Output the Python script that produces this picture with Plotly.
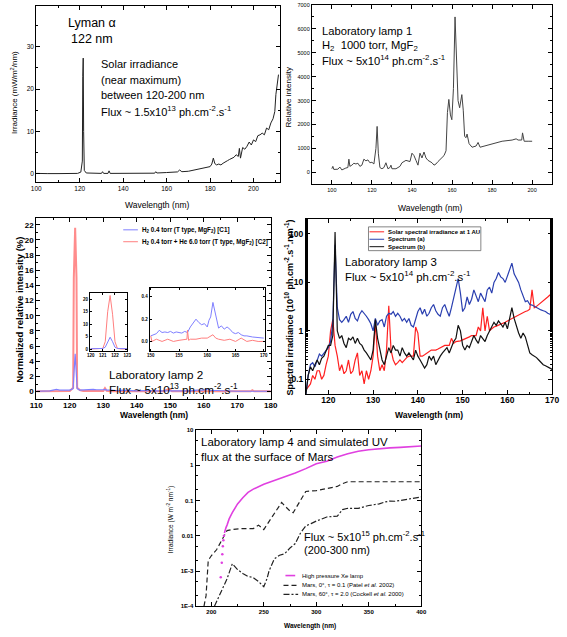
import plotly.graph_objects as go

W, H = 567, 637
FONT = "Arial, Liberation Sans, sans-serif"

# ---- panel 1: solar irradiance (mW/m2/nm)
sun_wl = [100, 103, 105, 110, 115, 119, 120.5, 121.2, 121.4, 121.6, 121.8, 122.1, 123, 126, 130,
          130.5, 131, 133, 133.5, 134, 140, 145, 150, 154.5, 155, 155.5, 160, 163, 165, 166, 167,
          170, 173, 175, 178, 180, 180.8, 181.5, 182.2, 183, 184, 185, 186, 187, 188, 189, 190,
          191, 192, 193, 193.5, 194, 195, 196, 197, 198, 199, 200, 201, 202, 203, 204, 205, 206,
          207, 208, 209, 209.8, 210.3, 211, 211.5]
sun_irr = [0.1, 0.15, 0.05, 0.05, 0.05, 0.1, 0.4, 3, 23, 27.3, 10, 0.8, 0.2, 0.1, 0.1,
           0.5, 0.1, 0.1, 0.7, 0.1, 0.1, 0.1, 0.15, 0.15, 0.5, 0.2, 0.3, 0.35, 0.45, 0.9, 0.5,
           0.6, 0.9, 1.1, 1.4, 1.7, 2.3, 3.7, 2.4, 2.1, 2.3, 2.1, 2.5, 2.9, 3.1, 3.4, 3.7,
           3.9, 4.5, 4.1, 6.0, 3.7, 6.2, 5.8, 6.5, 7.5, 6.8, 8.0, 7.6, 9.0, 9.2, 9.6, 9.2, 10.8,
           10.4, 12.0, 13.0, 14.7, 18.7, 21.8, 23.4]

# ---- panel 2: laboratory lamp 1 (relative intensity)
lamp1_wl = [100, 100.5, 101, 103, 104, 105, 107, 108, 108.5, 109,
            110, 111, 112, 113, 114, 115, 116, 117, 118, 119, 120, 121,
            122, 122.6, 123.2, 124, 125, 126, 127, 128, 129, 129.5,
            130, 132, 134, 135, 137, 139, 140, 141, 142, 143,
            144, 145, 146, 147, 148, 150, 151, 152, 153, 155,
            156, 157, 157.7, 158.4, 159.2, 159.9, 160.7, 161.5, 162.3, 163,
            163.8, 164.9, 165.6, 166.3, 167, 167.5, 168.5, 170, 172, 173,
            174, 176, 180, 185, 190, 192, 193, 194.8, 195.2, 196,
            198, 200]
lamp1_int = [150, 250, 120, 130, 220, 100, 180, 200, 550, 250,
             300, 380, 350, 380, 250, 300, 550, 480, 520, 400, 420, 350,
             1000, 1920, 800, 200, 150, 200, 400, 150, 200, 300,
             150, 150, 250, 400, 500, 450, 800, 700, 500, 300,
             800, 600, 850, 600, 500, 400, 300, 350, 450, 600,
             700, 900, 2500, 3050, 2400, 2200, 3500, 6500, 4500, 3000,
             2700, 3250, 2600, 1500, 1450, 1600, 1200, 1050, 1100, 1250,
             1050, 1100, 1200, 1300, 1350, 1400, 1350, 1350, 1650, 1300,
             1300, 1300]

# ---- panel 3: laboratory lamp 2 (normalized %)
lamp2_wl = [110, 112, 114, 115, 116, 117, 118, 119, 120, 121,
            121.2, 121.6, 122.0, 122.2, 123, 124, 125, 126, 127, 128,
            129, 130, 130.5, 131, 132, 134, 136, 138, 140, 142,
            144, 146, 148, 149.7, 150.5, 152, 154, 156, 158, 160,
            161, 162, 164, 166, 168, 170, 172, 174, 174.5, 175,
            176, 178, 180]
lamp2_c1 = [0.05, 0.05, 0.1, 0.2, 0.3, 0.2, 0.25, 0.2, 0.2, 0.4,
            2.0, 5.0, 2.0, 0.4, 0.2, 0.25, 0.3, 0.35, 0.3, 0.25,
            0.2, 0.25, 0.3, 0.2, 0.2, 0.15, 0.2, 0.15, 0.1, 0.15,
            0.1, 0.1, 0.1, 0.1, 0.1, 0.1, 0.1, 0.1, 0.2, 0.2,
            0.35, 0.15, 0.15, 0.1, 0.05, 0.05, 0.05, 0.05, 0.05, 0.05,
            0.05, 0.05, 0.05]
lamp2_c2 = [0.05, 0.05, 0.05, 0.05, 0.05, 0.05, 0.05, 0.05, 0.1, 0.5,
            15, 21.6, 15, 0.5, 0.2, 0.1, 0.1, 0.1, 0.1, 0.1,
            0.1, 0.1, 0.45, 0.1, 0.05, 0.05, 0.05, 0.05, 0.05, 0.05,
            0.05, 0.05, 0.05, 0.35, 0.05, 0.05, 0.05, 0.05, 0.05, 0.05,
            0.1, 0.05, 0.05, 0.05, 0.05, 0.05, 0.05, 0.05, 0.2, 0.05,
            0.05, 0.05, 0.05]

# inset: Lyman alpha line
lya_wl = [120, 120.5, 121, 121.2, 121.4, 121.6, 121.8, 122, 122.2, 122.5, 123]
lya_c1 = [0.2, 0.2, 0.3, 0.8, 3.0, 4.8, 3.0, 0.8, 0.3, 0.2, 0.2]
lya_c2 = [0.1, 0.1, 0.3, 3.0, 15, 21.5, 14, 3.0, 0.3, 0.1, 0.1]

# inset: 150-170 nm
h2_wl_c1 = [150, 150.5, 151, 151.5, 152, 152.5, 153, 153.5, 154, 154.5,
            155, 155.5, 156, 156.5, 157, 157.5, 158, 158.5, 159, 159.5,
            160, 160.3, 160.6, 161, 161.4, 162, 162.5, 163, 163.5, 164,
            164.5, 165, 165.5, 166, 166.5, 167, 168, 169, 170]
h2_c1 = [0.05, 0.06, 0.07, 0.1, 0.08, 0.085, 0.08, 0.09, 0.075, 0.085,
         0.08, 0.075, 0.09, 0.08, 0.13, 0.17, 0.2, 0.17, 0.15, 0.16,
         0.13, 0.19, 0.22, 0.35, 0.25, 0.12, 0.14, 0.11, 0.13, 0.11,
         0.08, 0.07, 0.08, 0.06, 0.05, 0.05, 0.04, 0.035, 0.03]
h2_wl_c2 = [150, 150.2, 151, 152, 153, 154, 155, 156, 156.4, 156.5, 156.7, 157, 158,
            159, 160, 161, 161.5, 162, 163, 164, 165, 166, 167, 168, 169, 170]
h2_c2 = [0.05, 0.0, 0.02, 0.0, 0.02, 0.0, 0.01, 0.02, 0.02, 0.1, 0.01, 0.02, 0.02,
         0.03, 0.03, 0.06, 0.03, 0.02, 0.01, 0.02, 0.0, 0.03, 0.0, 0.01, 0.0, 0.0]

# ---- panel 4: laboratory lamp 3 (10^10 ph/cm2/s/nm)
lamp3_wl = [115, 115.5, 116, 116.5, 117, 117.5, 118, 118.5, 119, 119.5,
            120, 120.5, 121, 121.5, 122, 122.5, 123, 123.5, 124, 124.5,
            125, 125.5, 126, 126.5, 127, 127.5, 128, 128.5, 129, 129.5,
            130, 130.5, 131, 131.5, 132, 132.5, 133, 133.5, 134, 134.5,
            135, 135.5, 136, 136.5, 137, 137.5, 138, 138.5, 139, 139.5,
            140, 140.5, 141, 141.5, 142, 142.5, 143, 143.5, 144, 144.5,
            145, 145.5, 146, 146.5, 147, 147.5, 148, 148.5, 149, 149.5,
            150, 150.5, 151, 151.5, 152, 152.5, 153, 153.5, 154, 154.5,
            155, 155.5, 156, 156.5, 157, 157.5, 158, 158.5, 159, 159.5,
            160, 160.5, 161, 161.5, 162, 162.5, 163, 163.5, 164, 164.5,
            165, 165.5, 166, 166.5, 167, 167.5, 168, 168.5, 169, 169.5,
            170]
solar_1au = [0.06, 0.07, 0.08, 0.12, 0.1, 0.15, 0.15, 0.1, 0.12, 0.2,
             0.3, 1.0, 1.7, 0.5, 0.3, 0.15, 0.2, 0.13, 0.15, 0.25,
             0.13, 0.15, 0.25, 0.35, 0.12, 0.15, 0.08, 0.15, 0.1, 0.15,
             0.3, 1.5, 0.3, 0.15, 0.2, 0.15, 0.4, 3.3, 0.4, 0.25,
             0.2, 0.22, 0.25, 0.22, 0.25, 0.28, 0.3, 0.3, 0.3, 1.2,
             0.9, 0.3, 0.3, 0.32, 0.35, 0.37, 0.4, 0.4, 0.4, 0.42,
             0.45, 0.47, 0.5, 0.5, 0.5, 0.7, 0.55, 0.6, 0.6, 0.62,
             0.65, 0.68, 0.7, 0.75, 0.8, 0.8, 0.8, 1.2, 1.0, 3.0,
             1.0, 2.0, 1.0, 1.1, 1.2, 1.25, 1.3, 1.35, 1.4, 1.5,
             1.6, 1.7, 1.8, 1.9, 2.0, 2.1, 2.3, 2.4, 2.5, 2.6,
             2.8, 7.0, 3.0, 3.2, 3.5, 3.7, 4.0, 4.5, 5.0, 5.5,
             6.0]
spectrum_a = [0.05, 0.12, 0.2, 0.22, 0.18, 0.25, 0.33, 0.3, 0.35, 0.4,
              0.45, 0.6, 1.5, 60, 3, 1.7, 1.5, 1.7, 2.0, 1.5,
              2.2, 2.5, 1.8, 1.6, 2.2, 2.6, 2.3, 2.0, 1.7, 1.4,
              1.0, 1.8, 1.3, 1.6, 1.7, 1.2, 2.0, 2.3, 2.2, 2.5,
              2.0, 2.3, 2.0, 1.6, 1.8, 1.5, 1.8, 1.3, 1.2, 1.7,
              2.5, 3.0, 2.2, 2.8, 2.0, 2.3, 3.0, 3.5, 2.6, 2.2,
              2.0, 3.0, 3.5, 2.6, 2.0, 3.0, 5.0, 7.0, 12, 6,
              2.5, 3.0, 5, 3.5, 4.5, 7, 5, 4, 6, 5,
              4, 7, 8, 6, 10, 12, 16, 13, 12, 10,
              14, 18, 25, 15, 12, 10, 7, 5, 4, 4.2,
              3.5, 3.4, 3.2, 3.0, 2.8, 2.7, 2.6, 2.5, 2.3, 2.2,
              2.1]
spectrum_b = [0.05, 0.12, 0.18, 0.15, 0.2, 0.25, 0.2, 0.27, 0.3, 0.4,
              0.5, 0.5, 0.8, 110, 1.0, 0.7, 0.8, 0.55, 0.45, 0.7,
              0.65, 0.75, 0.55, 0.7, 0.55, 0.5, 0.4, 0.35, 0.3, 0.25,
              0.4, 1.7, 0.7, 0.4, 0.25, 0.2, 0.3, 0.45, 0.35, 0.5,
              0.4, 0.4, 0.3, 0.45, 0.35, 0.3, 0.35, 0.3, 0.25, 0.4,
              0.3, 0.25, 0.2, 0.17, 0.2, 0.3, 0.25, 0.3, 0.2, 0.25,
              0.3, 0.35, 0.4, 0.45, 0.35, 0.45, 0.6, 0.7, 1.3, 1.0,
              0.5, 0.4, 0.5, 0.45, 0.6, 0.8, 0.65, 0.55, 0.8, 0.7,
              0.6, 0.8, 1.0, 1.2, 1.5, 1.3, 1.6, 1.4, 1.2, 1.5,
              1.1, 1.8, 3.0, 1.8, 1.2, 0.9, 0.7, 0.9, 0.75, 0.5,
              0.35, 0.32, 0.3, 0.28, 0.25, 0.22, 0.2, 0.19, 0.18, 0.17,
              0.16]

# ---- panel 5: lamp 4 and Mars surface UV (W m-2 nm-1)
xe_dot_wl = [209, 210, 210.5, 211, 211.5, 212]
xe_dot = [0.00066, 0.0017, 0.003, 0.005, 0.0075, 0.01]
xe_wl = [212.5, 213, 214, 215, 217, 220, 225, 230, 235, 240, 245, 250, 260, 270,
         280, 290, 300, 310, 320, 330, 340, 350, 360, 370, 380, 390, 400]
xe_lamp = [0.012, 0.014, 0.017, 0.02, 0.03, 0.045, 0.08, 0.12, 0.17, 0.21, 0.25, 0.29, 0.37, 0.47,
           0.6, 0.8, 1.1, 1.3, 1.7, 2.1, 2.5, 2.75, 2.95, 3.1, 3.2, 3.3, 3.5]
patel_wl = [193, 195, 197, 198, 200, 205, 210, 212, 215, 220, 230, 240, 245, 250, 255, 260,
            265, 267, 270, 275, 278, 282, 285, 290, 300, 310, 320, 325, 330, 350, 400]
patel_0deg = [1e-4, 2e-4, 1.8e-3, 2.2e-3, 2.7e-3, 4e-3, 7.5e-3, 0.01, 0.014, 0.015, 0.016, 0.016,
              0.02, 0.015, 0.025, 0.04, 0.07, 0.088, 0.07, 0.05, 0.045, 0.07, 0.1, 0.18, 0.19,
              0.22, 0.25, 0.3, 0.34, 0.34, 0.34]
cockell_wl = [203, 207, 210, 215, 220, 225, 230, 235, 240, 245, 250, 253, 255, 260, 265, 270,
              275, 280, 285, 290, 295, 300, 310, 320, 325, 330, 340, 350, 360, 365, 370, 375,
              380, 390, 400]
cockell_60deg = [1e-4, 1.8e-4, 2.8e-4, 6e-4, 1.6e-3, 1.1e-3, 8.5e-4, 7e-4, 6.5e-4, 5e-4, 3.6e-4,
                 6e-4, 1e-3, 2.2e-3, 2.8e-3, 3.1e-3, 4.5e-3, 6e-3, 0.012, 0.019, 0.022, 0.026,
                 0.034, 0.036, 0.055, 0.06, 0.06, 0.072, 0.08, 0.09, 0.096, 0.095, 0.1, 0.11, 0.126]

BLUE2, RED2 = "#7f7fff", "#ff7f7f"


def px(x):
    return x / W


def py(y):
    return 1 - y / H


def axis(xr, yr, rng, anchor, size=6.5, bold=False, **kw):
    ax = dict(domain=[px(xr[0]), px(xr[1])] if yr is None else [py(yr[1]), py(yr[0])],
              range=rng, anchor=anchor, showline=True, mirror="ticks", linecolor="black",
              linewidth=1, ticks="inside", ticklen=4, tickcolor="black", showgrid=False,
              zeroline=False,
              tickfont=dict(size=size, color="black", family=FONT,
                            weight="bold" if bold else "normal"))
    ax.update(kw)
    return ax


def label(x, y, text, size, bold=False, angle=0, anchor="left"):
    return dict(x=px(x), y=py(y), xref="paper", yref="paper", text=text, showarrow=False,
                xanchor=anchor, yanchor="middle", textangle=angle,
                font=dict(size=size, family=FONT, color="black",
                          weight="bold" if bold else "normal"))


def line(x, y, ax, color, width=1, dash="solid", name=None):
    return go.Scatter(x=x, y=y, mode="lines", xaxis=ax[0], yaxis=ax[1], name=name,
                      line=dict(color=color, width=width, dash=dash), hoverinfo="skip")


fig = go.Figure()
fig.add_trace(line(sun_wl, sun_irr, ("x", "y"), "#222222", 1))
fig.add_trace(line(lamp1_wl, lamp1_int, ("x2", "y2"), "#444444", 1))
fig.add_trace(line(lamp2_wl, lamp2_c2, ("x3", "y3"), "#ff8c8c", 2))
fig.add_trace(line(lamp2_wl, lamp2_c1, ("x3", "y3"), BLUE2, 1.2))
fig.add_trace(line(lya_wl, lya_c2, ("x4", "y4"), RED2, 1))
fig.add_trace(line(lya_wl, lya_c1, ("x4", "y4"), BLUE2, 1))
fig.add_trace(line(h2_wl_c1, h2_c1, ("x5", "y5"), BLUE2, 1))
fig.add_trace(line(h2_wl_c2, h2_c2, ("x5", "y5"), RED2, 1))
fig.add_trace(line(lamp3_wl, solar_1au, ("x6", "y6"), "#ff2020", 1.2))
fig.add_trace(line(lamp3_wl, spectrum_a, ("x6", "y6"), "#2a3fb0", 1.2))
fig.add_trace(line(lamp3_wl, spectrum_b, ("x6", "y6"), "#111111", 1.2))
fig.add_trace(line(patel_wl, patel_0deg, ("x7", "y7"), "#222222", 1.2, "5px,3px"))
fig.add_trace(line(cockell_wl, cockell_60deg, ("x7", "y7"), "#222222", 1.2, "6px,2px,2px,2px"))
fig.add_trace(line(xe_wl, xe_lamp, ("x7", "y7"), "#e040e0", 1.6))
fig.add_trace(go.Scatter(x=xe_dot_wl, y=xe_dot, mode="markers", xaxis="x7", yaxis="y7",
                         marker=dict(color="#e040e0", size=2.5), hoverinfo="skip"))

fig.update_layout(
    width=W, height=637, margin=dict(l=0, r=0, t=0, b=0),
    paper_bgcolor="white", plot_bgcolor="white", showlegend=False,
    font=dict(family=FONT, color="black"),
    # panel 1
    xaxis=axis((31, 280), None, [100, 212], "y", dtick=20, tick0=100,
               minor=dict(dtick=10, ticklen=2, ticks="inside")),
    yaxis=axis(None, (3, 181), [-2, 39.6], "x", tickvals=[0, 10, 20, 30],
               minor=dict(dtick=5, ticklen=2, ticks="inside")),
    # panel 2
    xaxis2=axis((313, 559), None, [90, 210], "y2", size=5.5, dtick=20, tick0=100,
                minor=dict(dtick=10, ticklen=2, ticks="inside")),
    yaxis2=axis(None, (2, 183), [-500, 7000], "x2", size=5.5, dtick=1000,
                minor=dict(dtick=500, ticklen=2, ticks="inside")),
    # panel 3
    xaxis3=axis((31, 271), None, [110, 180], "y3", size=8, bold=True, dtick=10,
                ticklabelstandoff=-2, minor=dict(dtick=5, ticklen=2, ticks="inside")),
    yaxis3=axis(None, (217, 400), [-1, 22.9], "x3", size=8, bold=True, dtick=2,
                minor=dict(dtick=1, ticklen=2, ticks="inside")),
    xaxis4=axis((86, 124), None, [119.95, 123], "y4", size=4.5, bold=True, dtick=1, ticklen=2),
    yaxis4=axis(None, (293, 351), [-0.6, 22.4], "x4", size=4.5, bold=True, dtick=5, ticklen=2),
    xaxis5=axis((147, 265), None, [149.8, 170.2], "y5", size=4.5, bold=True, dtick=5, ticklen=2),
    yaxis5=axis(None, (288, 351), [-0.083, 0.477], "x5", size=4.5, bold=True, dtick=0.2,
                tickformat=".1f", ticklen=2),
    # panel 4
    xaxis6=axis((307, 559), None, [115, 170], "y6", size=8.5, bold=True, dtick=10,
                ticklabelstandoff=-2, minor=dict(dtick=5, ticklen=2, ticks="inside")),
    yaxis6=axis(None, (218, 395), [-1.31, 2.31], "x6", size=8.5, bold=True, type="log",
                tickvals=[0.1, 1, 10, 100], ticktext=["0.1", "1", "10", "100"],
                minor=dict(ticklen=2, ticks="inside")),
    # panel 5
    xaxis7=axis((194, 425), None, [185, 400], "y7", size=6, bold=True, dtick=50,
                minor=dict(dtick=25, ticklen=2, ticks="inside")),
    yaxis7=axis(None, (431, 609), [-4, 1], "x7", size=6, bold=True, type="log",
                tickvals=[1e-4, 1e-3, 0.01, 0.1, 1, 10],
                ticktext=["1E-4", "1E-3", "0.01", "0.1", "1", "10"],
                minor=dict(ticklen=2, ticks="inside")),
)

flux = "Flux ~ {}x10<sup>{}</sup> ph.cm<sup>-2</sup>.s<sup>-1</sup>"
notes = [
    # panel 1
    label(61, 20, "Lyman α", 12.5),
    label(64, 36, "122 nm", 12.5),
    label(95, 62, "Solar irradiance", 11),
    label(95, 78, "(near maximum)", 11),
    label(95, 93, "between 120-200 nm", 11),
    label(95, 109, flux.format("1.5", 13), 11),
    label(8, 90, "Irradiance (mW/m<sup>2</sup>/nm)", 8, angle=-90, anchor="center"),
    label(155, 204, "Wavelength (nm)", 8.5, anchor="center"),
    # panel 2
    label(321, 28, "Laboratory lamp 1", 11.2),
    label(321, 43, "H<sub>2</sub>  1000 torr, MgF<sub>2</sub>", 11.2),
    label(321, 58, flux.format("5", 14), 11.2),
    label(289, 95, "Relative intensity", 8, angle=-90, anchor="center"),
    label(434, 207, "Wavelength (nm)", 8.5, anchor="center"),
    # panel 3
    label(137, 229, "H<sub>2</sub> 0.4 torr (T type, MgF<sub>2</sub>) [C1]", 6.3, bold=True),
    label(137, 241, "H<sub>2</sub> 0.4 torr + He 6.0 torr (T type, MgF<sub>2</sub>) [C2]", 6.3,
          bold=True),
    label(103, 375, "Laboratory lamp 2", 11.7),
    label(103, 390, flux.format("5", 13), 11.7),
    label(13, 310, "Normalized relative intensity (%)", 9.5, bold=True, angle=-90,
          anchor="center"),
    label(151, 416, "Wavelength (nm)", 8.5, bold=True, anchor="center"),
    # panel 4
    label(389, 231, "Solar spectral irradiance at 1 AU", 6, bold=True),
    label(389, 238.5, "Spectrum (a)", 6, bold=True),
    label(389, 246, "Spectrum (b)", 6, bold=True),
    label(345, 261, "Laboratory lamp 3", 11.4),
    label(345, 276, flux.format("5", 14), 11.4),
    label(290, 307, "Spectral irradiance (10<sup>10</sup> ph.cm<sup>-2</sup>.s<sup>-1</sup>"
                    ".nm<sup>-1</sup>)", 9, bold=True, angle=-90, anchor="center"),
    label(433, 416, "Wavelength (nm)", 8.5, bold=True, anchor="center"),
    # panel 5
    label(198, 443, "Laboratory lamp 4 and simulated UV", 11.5),
    label(198, 458, "flux at the surface of Mars", 11.5),
    label(303, 538, flux.format("5", 15), 11),
    label(303, 552, "(200-300 nm)", 11),
    label(301, 578, "High pressure Xe lamp", 6),
    label(301, 588, "Mars, 0°, τ = 0.1 (Patel <i>et al.</i> 2002)", 6),
    label(301, 597, "Mars, 60°, τ = 2.0 (Cockell <i>et al.</i> 2000)", 6),
    label(168, 522, "Irradiance (W m<sup>-2</sup> nm<sup>-1</sup>)", 6.5, angle=-90,
          anchor="center"),
    label(311, 629, "Wavelength (nm)", 6.5, bold=True, anchor="center"),
]


def seg(x0, x1, y, color, width=1, dash="solid"):
    return dict(type="line", xref="paper", yref="paper", x0=px(x0), x1=px(x1), y0=py(y),
                y1=py(y), line=dict(color=color, width=width, dash=dash))


shapes = [
    seg(120, 135, 229, BLUE2),
    seg(120, 135, 241, RED2),
    dict(type="rect", xref="paper", yref="paper", x0=px(371), x1=px(486), y0=py(250),
         y1=py(226), line=dict(color="#666666", width=0.8), fillcolor="white", layer="below"),
    seg(372, 387, 231, "#ff2020"),
    seg(372, 387, 238.5, "#2a3fb0"),
    seg(372, 387, 246, "#111111"),
    seg(286, 296, 578, "#e040e0", 1.6),
    seg(284, 298, 588, "#222222", 1.2, "5px,3px"),
    seg(284, 299, 597, "#222222", 1.2, "6px,2px,2px,2px"),
]

fig.update_layout(annotations=notes, shapes=shapes)
# the page body has a default 8px margin; drop it so the figure fills the window
fig.write_html("out.html", config={"displayModeBar": False},
               post_script="document.body.style.margin='0px';")
